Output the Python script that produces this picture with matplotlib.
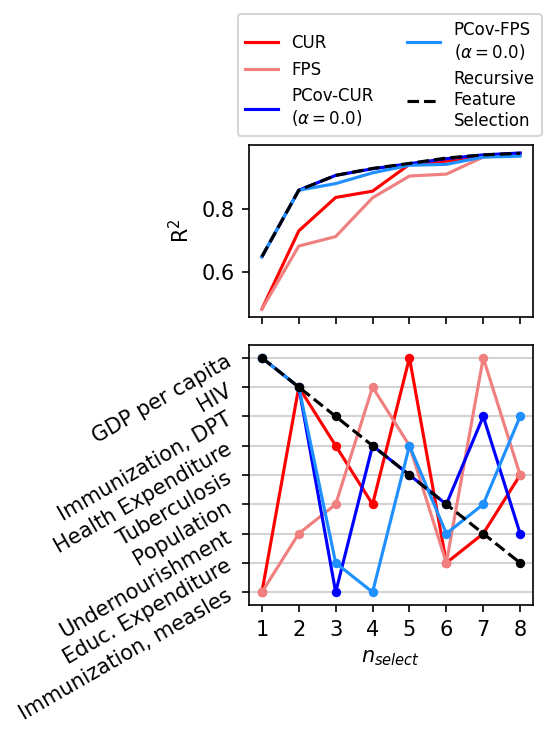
import numpy as np
import matplotlib
matplotlib.use('Agg')
from matplotlib import pyplot as plt

# number of selected features
n_select = [1, 2, 3, 4, 5, 6, 7, 8]

# feature names, top to bottom on the lower panel
features = ['GDP per capita', 'HIV', 'Immunization, DPT', 'Health Expenditure',
            'Tuberculosis', 'Population', 'Undernourishment', 'Educ. Expenditure',
            'Immunization, measles']

# R^2 scores
r2_cur = [0.481, 0.729, 0.835, 0.855, 0.940, 0.950, 0.965, 0.974]
r2_fps = [0.481, 0.681, 0.711, 0.834, 0.903, 0.909, 0.963, 0.972]
r2_pcur = [0.647, 0.858, 0.905, 0.926, 0.942, 0.958, 0.970, 0.976]
r2_pfps = [0.647, 0.858, 0.879, 0.913, 0.937, 0.940, 0.963, 0.966]
r2_rfe = [0.647, 0.858, 0.905, 0.927, 0.943, 0.960, 0.970, 0.975]

# index of the feature picked at each step
sel_cur = [8, 1, 3, 5, 0, 7, 6, 4]
sel_fps = [8, 6, 5, 1, 3, 7, 0, 4]
sel_pcur = [0, 1, 8, 3, 4, 5, 2, 6]
sel_pfps = [0, 1, 7, 8, 3, 6, 5, 2]
sel_rfe = [0, 1, 2, 3, 4, 5, 6, 7]

fig = plt.figure(figsize=(557 / 150, 737 / 150), dpi=150)
ax1 = fig.add_axes([0.447, 0.570, 0.510, 0.233])
ax2 = fig.add_axes([0.447, 0.179, 0.510, 0.353])

lw = 1.5
ax1.plot(n_select, r2_cur, color='red', lw=lw, label='CUR')
ax1.plot(n_select, r2_fps, color='lightcoral', lw=lw, label='FPS')
ax1.plot(n_select, r2_pcur, color='blue', lw=lw, label='PCov-CUR\n' + r'($\alpha = 0.0$)')
ax1.plot(n_select, r2_pfps, color='dodgerblue', lw=lw, label='PCov-FPS\n' + r'($\alpha = 0.0$)')
ax1.plot(n_select, r2_rfe, color='black', lw=lw, ls='--', label='Recursive\nFeature\nSelection')
ax1.set_ylabel(r'R$^2$')
ax1.set_xticks(n_select)
ax1.set_xticklabels([])
ax1.set_yticks([0.6, 0.8])

ax2.set_yticks(range(len(features)))
ax2.grid(axis='y', color='lightgray', lw=1)
ax2.set_axisbelow(True)
for sel, c, ls in [(sel_cur, 'red', '-'), (sel_fps, 'lightcoral', '-'),
                   (sel_pcur, 'blue', '-'), (sel_pfps, 'dodgerblue', '-'),
                   (sel_rfe, 'black', '--')]:
    ax2.plot(n_select, sel, color=c, ls=ls, lw=lw, marker='o', markersize=3.5)
ax2.set_ylim(len(features) - 0.56, -0.44)
ax2.set_yticklabels(features, rotation=30, ha='right', rotation_mode='anchor')
ax2.set_xticks(n_select)
ax2.set_xlabel(r'$n_{select}$')

for ax in (ax1, ax2):
    ax.tick_params(labelsize=10)
ax2.tick_params(axis='y', pad=6)

fig.legend(loc='upper left', bbox_to_anchor=(238 / 557, 1 - 14 / 737), ncol=2,
           fontsize=8, frameon=True, borderaxespad=0)

fig.savefig('out.png', dpi=150)
